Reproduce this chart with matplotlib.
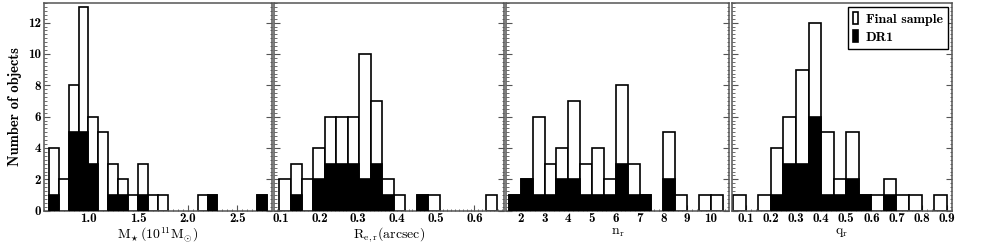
import matplotlib
matplotlib.use('Agg')
import matplotlib.pyplot as plt
from matplotlib.ticker import MultipleLocator
from matplotlib.patches import Patch
import numpy as np

plt.rcParams['mathtext.fontset'] = 'cm'

# stellar mass (10^11 Msun), bins of 0.1 from 0.6
mass_start, mass_width = 0.6, 0.1
mass_final = [4, 2, 8, 13, 6, 5, 3, 2, 1, 3, 1, 1, 0, 0, 0, 1, 1, 0, 0, 0, 0, 1]
mass_dr1 = [1, 0, 5, 5, 3, 0, 1, 1, 0, 1, 0, 0, 0, 0, 0, 0, 1, 0, 0, 0, 0, 1]

# effective radius (arcsec)
re_start, re_width = 0.096, 0.0296
re_final = [2, 3, 2, 4, 6, 6, 6, 10, 7, 2, 1, 0, 1, 1, 0, 0, 0, 0, 1]
re_dr1 = [0, 1, 0, 2, 3, 3, 3, 2, 3, 1, 0, 0, 1, 0, 0, 0, 0, 0, 0]

# Sersic index
n_start, n_width = 1.5, 0.5
n_final = [1, 2, 6, 3, 4, 7, 3, 4, 2, 8, 3, 1, 0, 5, 1, 0, 1, 1]
n_dr1 = [1, 2, 1, 1, 2, 2, 1, 1, 1, 3, 1, 1, 0, 2, 0, 0, 0, 0]

# axis ratio
q_start, q_width = 0.05, 0.05
q_final = [1, 0, 1, 4, 6, 9, 12, 5, 2, 5, 1, 1, 2, 1, 1, 0, 1]
q_dr1 = [0, 0, 0, 1, 3, 3, 6, 1, 1, 2, 1, 0, 1, 0, 0, 0, 0]

W, H = 981, 245
fig = plt.figure(figsize=(W / 100, H / 100), dpi=100)

# panel pixel boxes (left, right)
boxes = [(43.5, 271.5), (274, 503.5), (506, 729), (731.5, 952)]
top_px, bot_px = 3, 210.7

panels = [
    (mass_start, mass_width, mass_final, mass_dr1, (0.547, 2.845),
     [1.0, 1.5, 2.0, 2.5], ['1.0', '1.5', '2.0', '2.5'], 0.05,
     r'$\mathrm{M_{\star}\,(10^{11}M_{\odot})}$'),
    (re_start, re_width, re_final, re_dr1, (0.083, 0.675),
     [0.1, 0.2, 0.3, 0.4, 0.5, 0.6], ['0.1', '0.2', '0.3', '0.4', '0.5', '0.6'], 0.01,
     r'$\mathrm{R_{e,r}(arcsec)}$'),
    (n_start, n_width, n_final, n_dr1, (1.38, 10.76),
     list(range(2, 11)), [str(v) for v in range(2, 11)], 0.2,
     r'$\mathrm{n_r}$'),
    (q_start, q_width, q_final, q_dr1, (0.043, 0.921),
     [0.1, 0.2, 0.3, 0.4, 0.5, 0.6, 0.7, 0.8, 0.9],
     ['0.1', '0.2', '0.3', '0.4', '0.5', '0.6', '0.7', '0.8', '0.9'], 0.02,
     r'$\mathrm{q_r}$'),
]

spine_col = '#555555'
axes = []
for i, (start, width, final, dr1, xlim, ticks, labels, minor, xlabel) in enumerate(panels):
    l, r = boxes[i]
    ax = fig.add_axes([l / W, 1 - bot_px / H, (r - l) / W, (bot_px - top_px) / H])
    axes.append(ax)
    final = np.array(final)
    dr1 = np.array(dr1)
    left = start + width * np.arange(len(final))
    m = final > 0
    ax.bar(left[m], final[m], width=width, align='edge', color='white',
           edgecolor='black', linewidth=1.2, zorder=2)
    m = dr1 > 0
    ax.bar(left[m], dr1[m], width=width, align='edge', color='black',
           edgecolor='black', linewidth=1.2, zorder=3)

    ax.set_xlim(*xlim)
    ax.set_ylim(0, 13.25)
    ax.set_xticks(ticks)
    ax.set_xticklabels(labels, fontfamily='cmb10', fontsize=9.5)
    ax.xaxis.set_minor_locator(MultipleLocator(minor))
    ax.set_yticks(range(0, 13, 2))
    ax.yaxis.set_minor_locator(MultipleLocator(0.25))
    ax.tick_params(which='both', direction='in', color=spine_col,
                   left=True, right=True, bottom=True, top=False)
    ax.tick_params(which='major', length=4, width=0.8, pad=2)
    ax.tick_params(which='minor', length=1.8, width=0.6)
    for s in ax.spines.values():
        s.set_color(spine_col)
        s.set_linewidth(1.1)
    ax.set_xlabel(xlabel, fontsize=10, labelpad=-0.3)
    if i == 0:
        ax.set_yticklabels([str(v) for v in range(0, 13, 2)],
                           fontfamily='cmb10', fontsize=9.5)
        ax.set_ylabel('Number of objects', fontfamily='cmb10', fontsize=10.5,
                      labelpad=4)
    else:
        ax.set_yticklabels([])

handles = [Patch(facecolor='white', edgecolor='black', linewidth=1.2),
           Patch(facecolor='black', edgecolor='black', linewidth=1.2)]
leg = axes[3].legend(handles, ['Final sample', 'DR1'], loc='upper right',
                     prop={'family': 'cmb10', 'size': 10},
                     handlelength=0.35, handleheight=0.9, handletextpad=0.6,
                     borderaxespad=0.3, fancybox=False, framealpha=1,
                     borderpad=0.35, labelspacing=0.35)
leg.get_frame().set_edgecolor('black')
leg.get_frame().set_linewidth(1.0)

fig.savefig('out.png', dpi=100)
